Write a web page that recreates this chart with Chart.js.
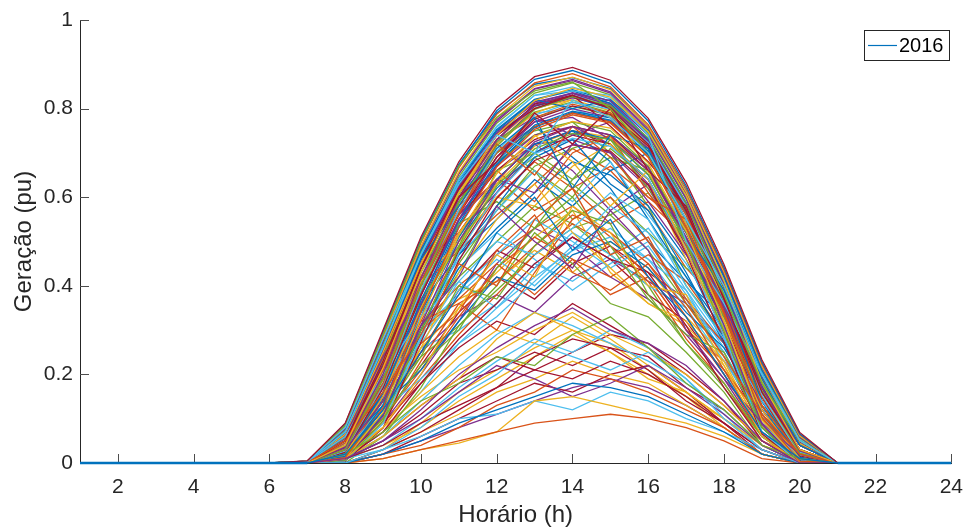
<!DOCTYPE html>
<html>
<head>
<meta charset="utf-8">
<script src="https://cdn.jsdelivr.net/npm/chart.js@4.4.0/dist/chart.umd.min.js"></script>
<style>
  html, body { margin: 0; padding: 0; background: #fff; }
  #wrap { width: 975px; height: 531px; }
</style>
</head>
<body>
<div id="wrap"><canvas id="c" width="975" height="531"></canvas></div>
<script>
// ---------- data ----------
const hours = [1,2,3,4,5,6,7,8,9,10,11,12,13,14,15,16,17,18,19,20,21,22,23,24];
const xTicks = [2,4,6,8,10,12,14,16,18,20,22,24];
const yTicks = [0,0.2,0.4,0.6,0.8,1];
const seriesLabel = '2016';
const nightAM = [0,0,0,0,0,0];   // hours 1–6
const nightPM = [0,0,0,0];       // hours 21–24
// daytime rows: hours 7..20
const clearSummer = [
  [.005,.090,.300,.510,.680,.802,.872,.893,.864,.778,.633,.448,.233,.069],
  [.004,.087,.294,.503,.672,.795,.866,.886,.857,.772,.626,.442,.228,.066],
  [.004,.083,.288,.497,.666,.787,.858,.879,.849,.764,.621,.437,.224,.064],
  [.003,.081,.282,.489,.657,.780,.851,.871,.843,.759,.612,.431,.219,.061],
  [.003,.077,.275,.485,.652,.771,.844,.863,.835,.751,.608,.424,.216,.058],
  [.003,.075,.271,.477,.646,.767,.835,.858,.831,.745,.600,.420,.210,.057],
  [.002,.073,.264,.472,.637,.758,.830,.849,.822,.741,.596,.413,.208,.054],
  [.002,.069,.260,.464,.633,.753,.821,.843,.817,.732,.588,.409,.202,.053],
  [.002,.068,.252,.459,.624,.744,.815,.834,.808,.728,.584,.401,.199,.049],
  [.002,.064,.248,.451,.619,.739,.806,.829,.803,.720,.576,.397,.192,.048],
  [.001,.062,.240,.447,.611,.730,.801,.820,.795,.716,.572,.389,.189,.044],
  [.001,.058,.236,.439,.607,.725,.792,.815,.791,.708,.564,.385,.182,.042]
];
const clearMid = [
  [0,.040,.215,.430,.610,.740,.818,.846,.826,.748,.603,.411,.181,.030],
  [0,.036,.201,.416,.597,.729,.807,.835,.818,.740,.596,.403,.171,.027],
  [0,.030,.189,.401,.586,.715,.798,.827,.807,.734,.587,.397,.164,.022],
  [0,.027,.177,.391,.571,.704,.785,.814,.799,.723,.580,.386,.154,.019],
  [0,.024,.169,.377,.561,.691,.776,.806,.787,.715,.569,.379,.148,.016],
  [0,.021,.157,.367,.547,.681,.763,.794,.779,.704,.562,.368,.139,.013]
];
const clearWinter = [
  [0,.012,.125,.341,.531,.668,.753,.786,.767,.691,.534,.336,.104,.004],
  [0,.010,.114,.326,.514,.653,.737,.771,.756,.677,.523,.321,.097,.003],
  [0,.008,.106,.311,.501,.637,.725,.759,.741,.667,.509,.311,.087,.002],
  [0,.006,.095,.299,.485,.625,.709,.744,.730,.652,.498,.297,.081,.001],
  [0,.005,.089,.284,.473,.609,.698,.733,.715,.642,.484,.287,.071,0],
  [0,.004,.079,.273,.457,.597,.683,.718,.704,.627,.473,.273,.066,0]
];
const nearClear = [
  [.004,.085,.290,.500,.670,.780,.840,.860,.800,.700,.550,.380,.180,.050],
  [.002,.070,.260,.470,.640,.760,.830,.840,.830,.740,.500,.360,.200,.050],
  [0,.050,.230,.440,.620,.740,.800,.830,.800,.720,.570,.370,.170,.030],
  [.003,.080,.280,.480,.640,.750,.820,.800,.820,.750,.600,.420,.210,.060],
  [0,.030,.190,.400,.580,.700,.780,.810,.790,.700,.560,.380,.150,.020],
  [.002,.065,.250,.450,.610,.720,.790,.820,.780,.690,.540,.370,.190,.050],
  [0,.020,.150,.360,.550,.690,.770,.800,.780,.710,.550,.350,.120,.010],
  [.003,.075,.270,.460,.600,.730,.810,.830,.760,.680,.580,.400,.200,.050],
  [0,.045,.210,.410,.570,.690,.760,.790,.770,.690,.530,.350,.160,.030],
  [.001,.060,.240,.430,.590,.700,.750,.770,.750,.670,.520,.360,.180,.040],
  [0,.015,.130,.330,.510,.640,.720,.750,.730,.650,.500,.310,.100,.005],
  [.002,.070,.260,.460,.620,.700,.770,.780,.730,.660,.510,.350,.180,.050],
  [0,.035,.190,.380,.550,.660,.730,.760,.740,.660,.520,.340,.140,.020],
  [.003,.080,.280,.470,.620,.730,.780,.740,.770,.710,.570,.400,.200,.060],
  [0,.010,.110,.300,.480,.610,.700,.740,.720,.640,.480,.290,.090,0],
  [.002,.060,.230,.420,.570,.670,.740,.760,.720,.630,.490,.340,.170,.040],
  [0,.025,.160,.350,.520,.640,.720,.750,.720,.640,.490,.320,.120,.010],
  [.001,.055,.220,.410,.560,.660,.720,.730,.700,.620,.480,.330,.160,.040],
  [.004,.088,.296,.505,.674,.790,.855,.870,.845,.760,.615,.435,.225,.065],
  [.003,.079,.279,.488,.655,.775,.845,.866,.838,.755,.610,.428,.217,.060],
  [0,.045,.225,.438,.615,.742,.820,.840,.812,.728,.585,.400,.175,.028],
  [0,.033,.195,.408,.590,.720,.800,.824,.805,.725,.578,.392,.160,.021],
  [0,.018,.145,.355,.540,.675,.758,.790,.772,.697,.548,.355,.128,.010],
  [.002,.071,.262,.468,.631,.748,.812,.836,.812,.726,.582,.404,.200,.051],
  [0,.014,.132,.346,.534,.671,.758,.792,.774,.695,.540,.342,.110,.005],
  [.001,.060,.240,.445,.610,.725,.790,.800,.770,.695,.550,.380,.185,.045],
  [0,.028,.175,.385,.565,.700,.780,.805,.785,.710,.565,.375,.150,.018],
  [0,.009,.100,.300,.490,.630,.715,.750,.735,.660,.505,.305,.085,.002],
  [.002,.066,.255,.460,.625,.742,.805,.826,.800,.716,.575,.398,.195,.049],
  [0,.038,.208,.420,.600,.730,.810,.830,.810,.730,.585,.395,.168,.025]
];
const partlyCloudy = [
  [.003,.080,.280,.470,.630,.740,.700,.820,.780,.700,.550,.400,.200,.050],
  [0,.050,.220,.440,.600,.680,.790,.720,.800,.660,.580,.370,.160,.030],
  [.002,.070,.260,.460,.580,.710,.780,.620,.740,.710,.520,.390,.190,.040],
  [0,.030,.180,.400,.560,.720,.650,.760,.690,.600,.550,.340,.130,.020],
  [0,.020,.150,.350,.520,.630,.740,.680,.580,.660,.480,.300,.120,.010],
  [.002,.060,.240,.380,.550,.640,.610,.720,.700,.590,.470,.360,.170,.040],
  [0,.040,.190,.370,.490,.660,.700,.640,.730,.620,.500,.330,.140,.020],
  [0,.010,.110,.300,.470,.580,.690,.730,.630,.570,.430,.270,.080,0],
  [.003,.070,.230,.410,.500,.600,.580,.670,.720,.640,.460,.320,.150,.030],
  [0,.030,.170,.330,.460,.570,.660,.590,.680,.560,.450,.310,.100,.010],
  [0,.040,.200,.420,.580,.660,.590,.700,.740,.610,.490,.340,.150,.020],
  [.002,.070,.270,.450,.520,.610,.720,.660,.570,.630,.520,.370,.180,.040],
  [0,.030,.160,.340,.500,.620,.700,.750,.680,.550,.420,.300,.110,.010],
  [0,.050,.210,.390,.540,.590,.530,.640,.690,.660,.530,.350,.160,.030],
  [.001,.060,.250,.440,.600,.700,.760,.690,.620,.500,.410,.330,.170,.040],
  [0,.020,.130,.310,.450,.570,.670,.710,.740,.670,.500,.310,.100,.010],
  [0,.040,.180,.360,.470,.550,.640,.580,.660,.700,.560,.360,.140,.020],
  [.003,.075,.270,.470,.630,.720,.660,.550,.600,.520,.440,.380,.190,.050],
  [0,.015,.120,.290,.440,.530,.610,.680,.650,.580,.460,.280,.090,0],
  [0,.035,.170,.350,.510,.630,.690,.630,.560,.610,.500,.330,.130,.020],
  [.002,.065,.240,.400,.480,.560,.630,.710,.660,.570,.440,.350,.180,.040],
  [0,.025,.140,.300,.430,.580,.660,.600,.710,.640,.480,.300,.110,.010],
  [0,.050,.220,.410,.560,.640,.570,.620,.540,.590,.510,.340,.150,.030],
  [.001,.055,.230,.430,.590,.680,.740,.770,.700,.580,.400,.290,.160,.040],
  [0,.030,.150,.320,.480,.600,.680,.620,.670,.600,.530,.360,.120,.020]
];
const variable = [
  [0,.020,.120,.250,.380,.520,.600,.480,.550,.420,.330,.200,.070,.010],
  [.001,.050,.160,.290,.450,.400,.550,.620,.470,.510,.360,.240,.110,.020],
  [0,.010,.080,.200,.350,.470,.420,.580,.520,.400,.380,.220,.060,0],
  [0,.030,.140,.310,.420,.580,.500,.440,.570,.480,.300,.190,.090,.020],
  [0,.020,.100,.220,.300,.440,.530,.600,.490,.370,.290,.250,.080,.010],
  [.002,.060,.200,.330,.410,.500,.470,.530,.610,.550,.400,.280,.140,.030],
  [0,.010,.070,.180,.280,.360,.450,.510,.460,.430,.310,.170,.050,0],
  [0,.040,.150,.270,.340,.480,.560,.430,.390,.450,.350,.210,.100,.020],
  [0,.020,.110,.240,.400,.370,.490,.570,.540,.380,.270,.180,.060,.010],
  [.001,.040,.130,.210,.320,.420,.390,.470,.500,.440,.340,.260,.120,.020],
  [0,.010,.090,.260,.430,.550,.630,.520,.440,.360,.320,.230,.070,0],
  [0,.030,.120,.190,.270,.330,.410,.490,.580,.520,.390,.240,.090,.010],
  [0,.020,.140,.300,.370,.450,.380,.460,.420,.470,.410,.290,.110,.020],
  [0,0,.060,.170,.310,.400,.520,.450,.360,.330,.250,.160,.040,0],
  [.001,.050,.170,.320,.360,.300,.430,.550,.600,.500,.370,.270,.130,.030],
  [0,.030,.130,.270,.390,.470,.550,.500,.440,.490,.370,.250,.100,.020],
  [0,.010,.090,.230,.360,.410,.490,.560,.520,.450,.330,.200,.060,0],
  [.001,.045,.170,.300,.380,.460,.400,.480,.530,.460,.390,.270,.120,.020],
  [0,.020,.100,.210,.330,.440,.510,.460,.380,.420,.300,.210,.070,.010],
  [0,.035,.150,.280,.410,.350,.440,.520,.470,.400,.350,.230,.100,.020],
  [0,.015,.080,.190,.290,.380,.470,.540,.490,.410,.280,.180,.050,0],
  [.002,.055,.190,.340,.440,.520,.460,.390,.450,.500,.380,.260,.130,.030],
  [0,.025,.120,.260,.350,.430,.510,.570,.430,.360,.310,.220,.080,.010],
  [0,.010,.070,.160,.270,.350,.420,.480,.510,.460,.350,.210,.060,0],
  [.001,.040,.160,.290,.370,.410,.480,.430,.500,.440,.330,.240,.110,.020],
  [0,.020,.110,.250,.390,.480,.440,.510,.460,.380,.320,.200,.070,.010],
  [0,.030,.140,.240,.310,.390,.470,.530,.560,.480,.360,.250,.100,.020],
  [0,.020,.090,.200,.320,.450,.530,.490,.420,.370,.290,.190,.060,0],
  [.001,.050,.180,.310,.400,.470,.530,.580,.510,.420,.300,.230,.120,.020],
  [0,.015,.100,.220,.340,.420,.370,.450,.490,.430,.370,.240,.080,.010],
  [0,.030,.130,.260,.300,.360,.450,.410,.470,.530,.420,.280,.110,.020],
  [0,.020,.120,.280,.420,.500,.580,.540,.470,.400,.270,.170,.060,0],
  [.001,.040,.150,.250,.330,.380,.340,.420,.460,.410,.360,.270,.120,.020]
];
const overcast = [
  [0,.010,.050,.120,.200,.260,.310,.350,.300,.270,.220,.140,.050,0],
  [0,.020,.070,.140,.180,.240,.220,.290,.330,.260,.180,.120,.040,.010],
  [0,0,.030,.080,.150,.200,.270,.240,.210,.250,.190,.100,.030,0],
  [0,.010,.040,.090,.130,.170,.210,.190,.230,.200,.150,.090,.030,0],
  [0,0,.020,.050,.090,.120,.150,.180,.170,.150,.110,.070,.020,0],
  [0,0,.010,.030,.050,.070,.090,.100,.110,.100,.080,.050,.010,0],
  [0,0,.010,.030,.045,.070,.140,.150,.130,.110,.090,.060,.020,0],
  [0,.010,.030,.060,.100,.110,.140,.120,.160,.140,.100,.070,.030,0],
  [0,0,.020,.040,.080,.130,.160,.210,.190,.160,.120,.080,.020,0],
  [0,.010,.050,.100,.160,.220,.190,.150,.180,.220,.170,.110,.040,0],
  [0,0,.030,.070,.120,.170,.240,.280,.260,.210,.140,.090,.030,0],
  [0,.010,.060,.130,.190,.280,.340,.300,.250,.190,.160,.100,.040,.010],
  [0,.010,.060,.140,.220,.290,.340,.310,.270,.230,.180,.120,.040,0],
  [0,.020,.080,.150,.210,.250,.300,.340,.290,.250,.200,.130,.050,.010],
  [0,.010,.040,.100,.170,.230,.280,.250,.300,.260,.190,.110,.030,0],
  [0,0,.030,.070,.110,.160,.190,.230,.200,.180,.130,.080,.020,0],
  [0,.010,.050,.110,.180,.210,.250,.220,.260,.240,.170,.120,.040,0],
  [0,.015,.070,.160,.240,.300,.270,.330,.280,.220,.160,.100,.040,.010],
  [0,0,.020,.060,.100,.140,.180,.160,.200,.220,.160,.090,.020,0],
  [0,.010,.040,.080,.140,.190,.240,.290,.250,.200,.150,.100,.030,0],
  [0,.020,.090,.180,.260,.320,.290,.360,.310,.260,.200,.130,.050,.010],
  [0,0,.030,.090,.160,.210,.260,.300,.270,.210,.150,.080,.020,0],
  [0,.010,.060,.130,.190,.240,.210,.250,.290,.270,.210,.140,.040,0],
  [0,0,.020,.050,.080,.110,.140,.170,.190,.170,.130,.080,.020,0]
];

// ---------- build chart ----------
const palette = ['#0072BD','#D95319','#EDB120','#7E2F8E','#77AC30','#4DBEEE','#A2142F'];
const groups = [variable, clearSummer, partlyCloudy, nearClear, overcast, clearMid, clearWinter];
const rows = [];
const maxLen = Math.max(...groups.map(g => g.length));
for (let i = 0; i < maxLen; i++) for (const g of groups) if (i < g.length) rows.push(g[i]);

const datasets = rows.map((r, i) => {
  const vals = [...nightAM, ...r, ...nightPM];
  const ds = {
    label: i === 0 ? seriesLabel : 'd' + (i + 1),
    data: hours.map((h, k) => ({x: h, y: vals[k]})),
    borderColor: palette[(i * 6 + Math.floor(i / 7)) % palette.length],
    borderWidth: 1.3,
    pointRadius: 0,
    tension: 0,
    fill: false
  };
  if (i === 0) {
    ds.borderColor = palette[0];
    ds.clip = 3;
    ds.segment = {
      borderWidth: c => (c.p0.parsed.y === 0 && c.p1.parsed.y === 0) ? 2.6 : undefined
    };
  }
  return ds;
});

const FONT = "'Liberation Sans', Arial, Helvetica, sans-serif";
const TXT = '#262626';

const inwardTicks = {
  id: 'inwardTicks',
  beforeDatasetsDraw(chart) {
    const {ctx, chartArea: a, scales: {x, y}} = chart;
    ctx.save();
    ctx.strokeStyle = '#4d4d4d';
    ctx.lineWidth = 1;
    ctx.beginPath();
    xTicks.forEach(v => {
      const px = Math.round(x.getPixelForValue(v)) + 0.5;
      ctx.moveTo(px, a.bottom); ctx.lineTo(px, a.bottom - 9);
    });
    yTicks.forEach(v => {
      const py = Math.round(y.getPixelForValue(v)) + 0.5;
      ctx.moveTo(a.left, py); ctx.lineTo(a.left + 9, py);
    });
    ctx.stroke();
    ctx.restore();
  }
};

const boxLegend = {
  id: 'boxLegend',
  afterDraw(chart) {
    const {ctx} = chart;
    ctx.save();
    ctx.fillStyle = '#fff';
    ctx.fillRect(864.5, 30.5, 85, 30);
    ctx.strokeStyle = '#262626';
    ctx.lineWidth = 1;
    ctx.strokeRect(864.5, 30.5, 85, 30);
    ctx.strokeStyle = palette[0];
    ctx.lineWidth = 1.2;
    ctx.beginPath();
    ctx.moveTo(868, 45.5); ctx.lineTo(897, 45.5);
    ctx.stroke();
    ctx.fillStyle = '#000';
    ctx.font = '20px ' + FONT;
    ctx.textBaseline = 'middle';
    ctx.textAlign = 'left';
    ctx.fillText(seriesLabel, 899, 46);
    ctx.restore();
  }
};

new Chart(document.getElementById('c'), {
  type: 'line',
  data: {datasets},
  options: {
    responsive: false,
    animation: false,
    events: [],
    layout: {padding: {top: 20, right: 16, left: 0, bottom: 0}},
    plugins: {legend: {display: false}, tooltip: {enabled: false}},
    scales: {
      x: {
        type: 'linear', min: 1, max: 24,
        afterBuildTicks(s) { s.ticks = xTicks.map(v => ({value: v})); },
        afterFit(s) { s.height = 68; },
        grid: {display: false, drawTicks: false},
        border: {display: true, color: '#262626', width: 1},
        ticks: {color: TXT, font: {family: FONT, size: 21}, padding: 12, maxRotation: 0, autoSkip: false},
        title: {display: true, text: 'Horário (h)', color: TXT, font: {family: FONT, size: 24}, padding: {top: 0, bottom: 1}}
      },
      y: {
        min: 0, max: 1,
        afterBuildTicks(s) { s.ticks = yTicks.map(v => ({value: v})); },
        afterFit(s) { s.width = 80; },
        grid: {display: false, drawTicks: false},
        border: {display: true, color: '#262626', width: 1},
        ticks: {color: TXT, font: {family: FONT, size: 21}, padding: 7,
                callback: v => String(+Number(v).toFixed(1))},
        title: {display: true, text: 'Geração (pu)', color: TXT, font: {family: FONT, size: 24}, padding: {top: 10, bottom: 0}}
      }
    }
  },
  plugins: [inwardTicks, boxLegend]
});
</script>
</body>
</html>
